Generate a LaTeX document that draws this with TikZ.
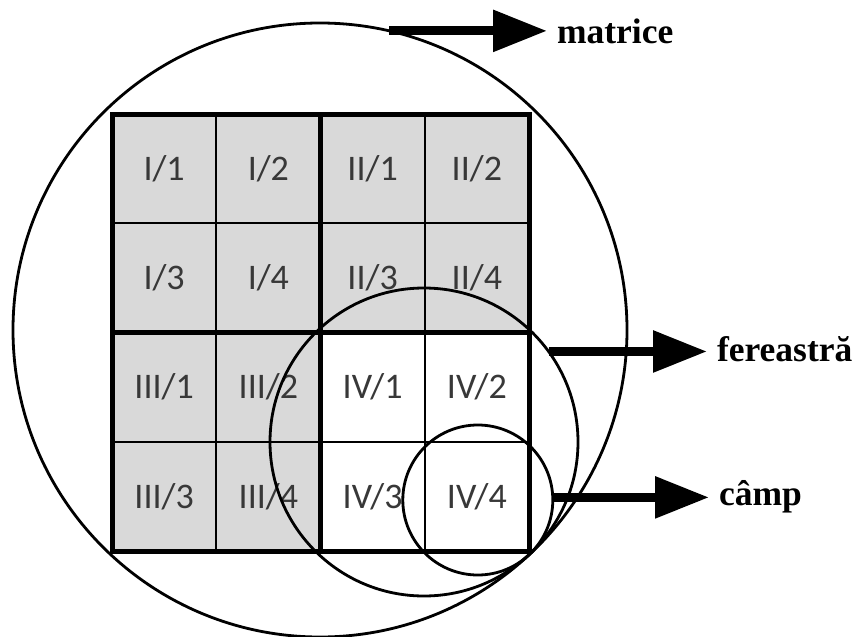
\documentclass[tikz,border=0pt]{standalone}
\usepackage{fontspec}
\setmainfont{Liberation Serif}
\newfontfamily\cellfont{Carlito}
\usetikzlibrary{arrows.meta}
\definecolor{cellgray}{HTML}{D9D9D9}
\definecolor{celltext}{HTML}{383838}
\begin{document}
\begin{tikzpicture}[x=1pt,y=-1pt,
  cell/.style={draw=black, line width=1.8pt, minimum width=104.25pt, minimum height=109.25pt,
    inner sep=0pt, outer sep=0pt, font=\cellfont\fontsize{36}{40}\selectfont, text=celltext},
  heavy/.style={line width=5pt},
  ring/.style={circle, draw=black, line width=2.8pt, inner sep=0pt, outer sep=0pt},
  pointer/.style={line width=9pt, -{Triangle[length=54pt,width=40pt]}, shorten >=10pt},
  lbl/.style={font=\bfseries\fontsize{35.5}{40}\selectfont, inner sep=0pt, outer sep=0pt, anchor=base west}
]
\useasboundingbox (0,0) rectangle (854,637);
\fill[white] (0,0) rectangle (854,637);

% grid cells
\foreach \q/\cx/\cy/\fillc in {I/0/0/cellgray, II/2/0/cellgray, III/0/2/cellgray, IV/2/2/white} {
  \foreach \k/\dx/\dy in {1/0/0, 2/1/0, 3/0/1, 4/1/1} {
    \node[cell, fill=\fillc] (c\q\k) at ({112+104.25*(\cx+\dx+0.5)}, {114+109.25*(\cy+\dy+0.5)}) {\q/\k};
  }
}
% heavy block borders
\draw[heavy] (cI1.north west) rectangle (cIV4.south east);
\draw[heavy] (cII1.north west) -- (cIV3.south west);
\draw[heavy] (cIII1.north west) -- (cIV2.north east);

% circles
\node[ring, minimum size=614pt] (B) at (320,330) {};
\node[ring, minimum size=308pt] (F) at (424,442) {};
\node[ring, minimum size=150pt] (C) at (477.8,500) {};

% labels
\node[lbl] (M) at (557,43) {matrice};
\node[lbl] (W) at (717,361) {fereastră};
\node[lbl] (P) at (719,505) {câmp};

% pointers
\draw[pointer] (B.77) -- (B.77 -| M.west);
\draw[pointer] (F.36.5) -- (F.36.5 -| W.west);
\draw[pointer] (C.2) -- (C.2 -| P.west);
\end{tikzpicture}
\end{document}
